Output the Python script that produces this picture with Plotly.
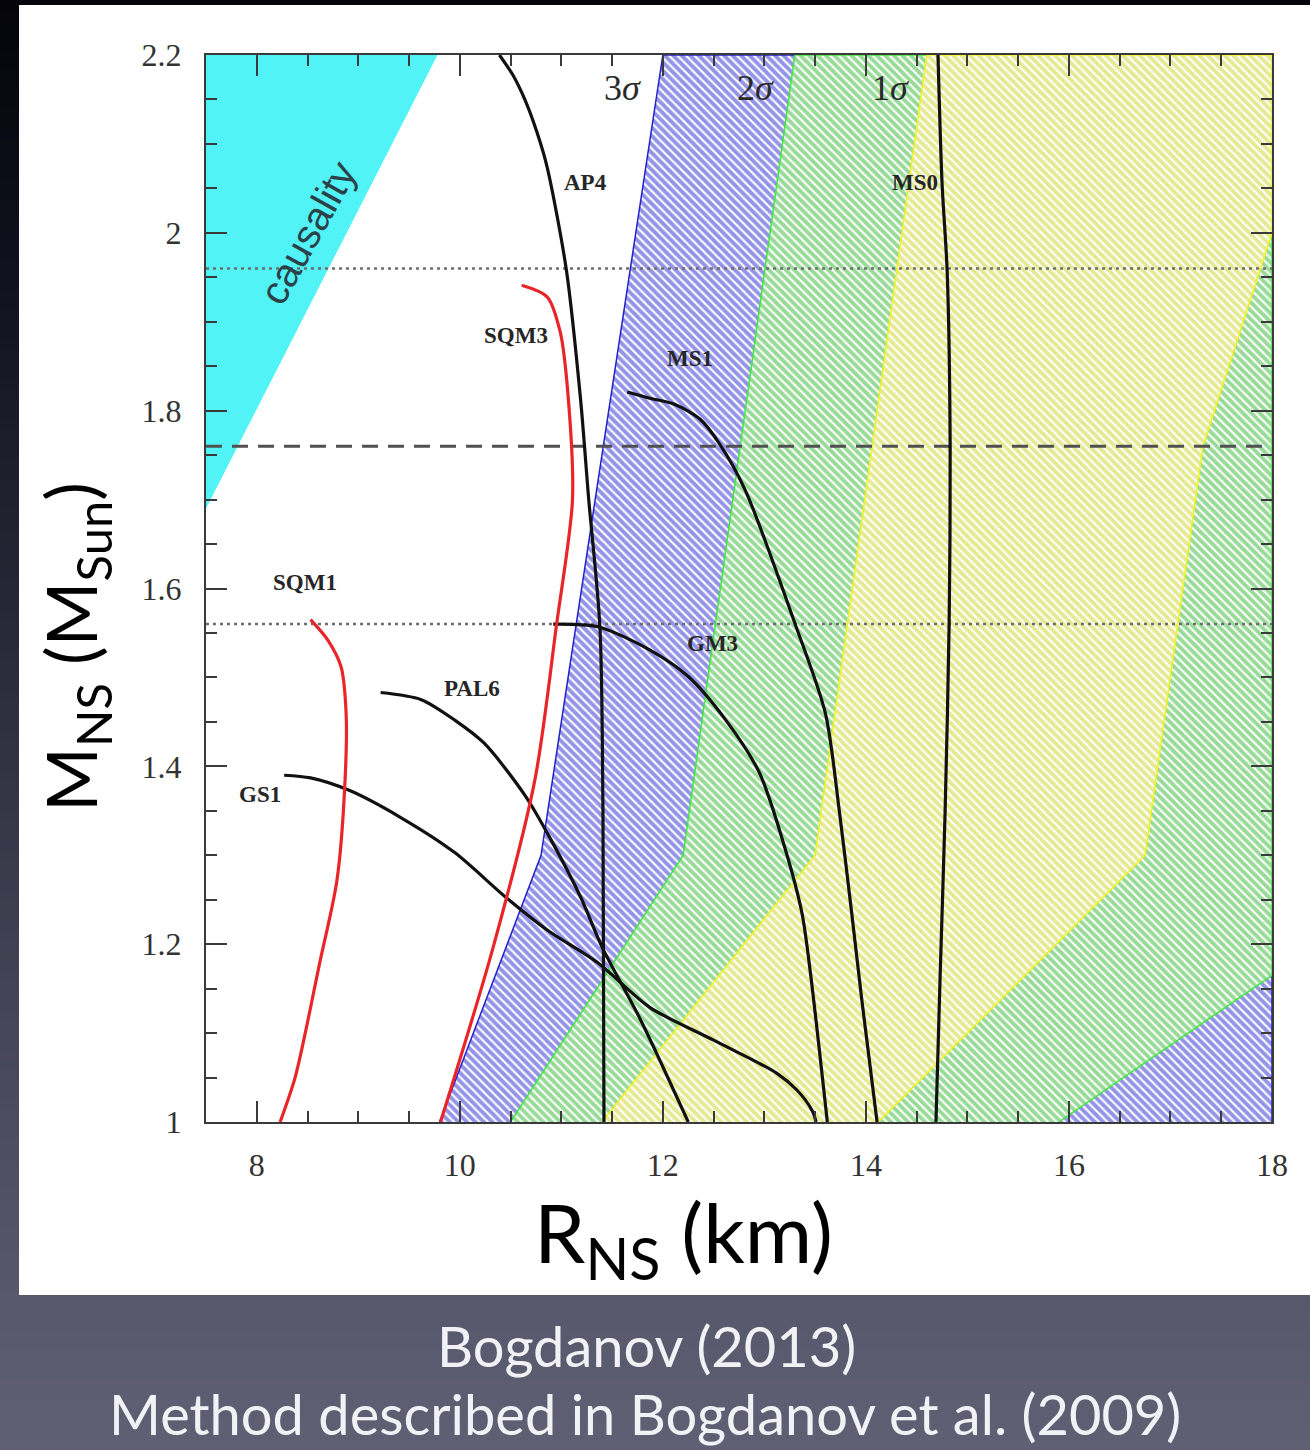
import plotly.graph_objects as go

# ---------------- data ----------------
R_RANGE = [7.5, 18.0]
M_RANGE = [1.0, 2.2]
X_TICKS = [8, 10, 12, 14, 16, 18]
X_TICK_TEXT = ["8", "10", "12", "14", "16", "18"]
Y_TICKS = [1.0, 1.2, 1.4, 1.6, 1.8, 2.0, 2.2]
Y_TICK_TEXT = ["1", "1.2", "1.4", "1.6", "1.8", "2", "2.2"]

# causality-excluded region
CAUSAL_R = [7.5, 9.78, 7.5]
CAUSAL_M = [1.69, 2.2, 2.2]

# confidence contours (3, 2, 1 sigma)
SIG3_R = [9.8, 10.8, 12.0, 18.0, 18.0]
SIG3_M = [1.0, 1.3, 2.2, 2.2, 1.0]
SIG2_R = [10.5, 12.2, 13.3, 18.0, 18.0, 15.9]
SIG2_M = [1.0, 1.3, 2.2, 2.2, 1.165, 1.0]
SIG1_R = [11.4, 13.5, 14.6, 18.0, 18.0, 17.32, 16.75, 14.12]
SIG1_M = [1.0, 1.3, 2.2, 2.2, 2.0, 1.76, 1.3, 1.0]

# reference masses
DOTTED_M = [1.56, 1.96]
DASHED_M = [1.76]

# equations of state (normal matter, black)
AP4_R = [10.39, 10.52, 10.64, 10.76, 10.86, 11.05, 11.19, 11.27, 11.38, 11.41, 11.42]
AP4_M = [2.200, 2.178, 2.150, 2.113, 2.074, 1.958, 1.812, 1.700, 1.557, 1.348, 1.0]
MS0_R = [14.71, 14.75, 14.80, 14.83, 14.82, 14.78, 14.73, 14.69]
MS0_M = [2.200, 2.056, 1.958, 1.759, 1.561, 1.348, 1.160, 1.0]
MS1_R = [11.65, 11.87, 12.12, 12.37, 12.55, 12.81, 13.30, 13.60, 13.74, 13.86, 13.96, 14.11]
MS1_M = [1.821, 1.814, 1.807, 1.790, 1.764, 1.711, 1.561, 1.460, 1.348, 1.235, 1.137, 1.0]
GM3_R = [10.92, 11.36, 11.87, 12.25, 12.62, 12.95, 13.20, 13.37, 13.45, 13.62]
GM3_M = [1.560, 1.557, 1.531, 1.501, 1.452, 1.393, 1.309, 1.235, 1.171, 1.0]
PAL6_R = [9.22, 9.62, 9.95, 10.24, 10.65, 10.90, 11.19, 11.40, 11.78, 12.25]
PAL6_M = [1.483, 1.475, 1.452, 1.426, 1.366, 1.317, 1.253, 1.197, 1.115, 1.0]
GS1_R = [8.27, 8.53, 8.91, 9.41, 9.95, 10.45, 10.86, 11.36, 11.87, 12.50, 13.12, 13.32, 13.47, 13.51]
GS1_M = [1.390, 1.387, 1.373, 1.343, 1.303, 1.253, 1.216, 1.179, 1.129, 1.092, 1.055, 1.036, 1.013, 1.0]

# strange quark matter (red)
SQM1_R = [8.53, 8.70, 8.83, 8.88, 8.87, 8.79, 8.62, 8.38, 8.23]
SQM1_M = [1.565, 1.542, 1.512, 1.460, 1.385, 1.272, 1.179, 1.051, 1.0]
SQM3_R = [10.61, 10.86, 10.99, 11.07, 11.11, 10.95, 10.74, 10.32, 9.81]
SQM3_M = [1.941, 1.928, 1.888, 1.812, 1.700, 1.557, 1.385, 1.193, 1.0]

BLACK_CURVES = [("AP4", AP4_R, AP4_M), ("MS0", MS0_R, MS0_M), ("MS1", MS1_R, MS1_M),
                ("GM3", GM3_R, GM3_M), ("PAL6", PAL6_R, PAL6_M), ("GS1", GS1_R, GS1_M)]
RED_CURVES = [("SQM1", SQM1_R, SQM1_M), ("SQM3", SQM3_R, SQM3_M)]

CURVE_LABELS = ["AP4", "SQM3", "MS1", "GM3", "MS0", "SQM1", "PAL6", "GS1"]
CURVE_LABEL_R = [11.24, 10.55, 12.27, 12.49, 14.48, 8.475, 10.12, 8.03]
CURVE_LABEL_M = [2.057, 1.885, 1.859, 1.538, 2.057, 1.607, 1.487, 1.368]

SIGMA_LABELS = ["3<i>σ</i>", "2<i>σ</i>", "1<i>σ</i>"]
SIGMA_LABEL_R = [11.6, 12.91, 14.24]
SIGMA_LABEL_M = [2.163, 2.163, 2.163]

# ---------------- geometry helpers (pixel -> paper) ----------------
W, H = 1310, 1450
PL, PR, PT, PB = 206, 1272, 55, 1122


def px(x):
    return (x - PL) / (PR - PL)


def py(y):
    return (PB - y) / (PB - PT)


fig = go.Figure()

# causality
fig.add_trace(go.Scatter(x=CAUSAL_R, y=CAUSAL_M, fill="toself", mode="lines",
                         line=dict(width=0, color="#52F3F7"), fillcolor="#52F3F7",
                         hoverinfo="skip", showlegend=False))

# contours
for rr, mm, fg, edge in [(SIG3_R, SIG3_M, "#2828d0", "#2222cc"),
                         (SIG2_R, SIG2_M, "#32b632", "#3ee83e"),
                         (SIG1_R, SIG1_M, "#cbd426", "#f2f21e")]:
    fig.add_trace(go.Scatter(x=rr, y=mm, fill="toself", mode="lines",
                             line=dict(width=1.5, color=edge),
                             fillpattern=dict(shape="\\", fgcolor=fg, bgcolor="white",
                                              size=6, solidity=0.65),
                             hoverinfo="skip", showlegend=False))

# horizontal reference masses
for m in DOTTED_M:
    fig.add_trace(go.Scatter(x=R_RANGE, y=[m, m], mode="lines",
                             line=dict(color="#6e6e6e", width=2.5, dash="3px,4px"),
                             hoverinfo="skip", showlegend=False))
for m in DASHED_M:
    fig.add_trace(go.Scatter(x=R_RANGE, y=[m, m], mode="lines",
                             line=dict(color="#505050", width=3, dash="16px,10px"),
                             hoverinfo="skip", showlegend=False))

# EOS curves
for name, rr, mm in BLACK_CURVES:
    fig.add_trace(go.Scatter(x=rr, y=mm, mode="lines", name=name,
                             line=dict(color="#111111", width=3.2, shape="spline", smoothing=0.8),
                             showlegend=False))
for name, rr, mm in RED_CURVES:
    fig.add_trace(go.Scatter(x=rr, y=mm, mode="lines", name=name,
                             line=dict(color="#e8262a", width=3.2, shape="spline", smoothing=0.8),
                             showlegend=False))

# ---------------- background shapes ----------------
shapes = []
stops = [(0, (4, 4, 10)), (250, (16, 16, 28)), (600, (38, 38, 54)),
         (1000, (68, 68, 86)), (1300, (88, 88, 108)), (1450, (96, 95, 115))]


def bgcol(y):
    for (y0, c0), (y1, c1) in zip(stops[:-1], stops[1:]):
        if y0 <= y <= y1:
            t = (y - y0) / (y1 - y0)
            return "rgb(%d,%d,%d)" % tuple(round(a + (b - a) * t) for a, b in zip(c0, c1))
    return "rgb(%d,%d,%d)" % stops[-1][1]


step = 10
for y in range(0, H, step):
    shapes.append(dict(type="rect", xref="paper", yref="paper", layer="below",
                       x0=px(0), x1=px(W), y0=py(y + step + 1), y1=py(y),
                       fillcolor=bgcol(y + step / 2), line=dict(width=0)))
shapes.append(dict(type="rect", xref="paper", yref="paper", layer="below",
                   x0=px(19), x1=px(W + 2), y0=py(1295), y1=py(5),
                   fillcolor="white", line=dict(width=0)))

# ---------------- annotations ----------------
ann = []
for t, r, m in zip(CURVE_LABELS, CURVE_LABEL_R, CURVE_LABEL_M):
    ann.append(dict(x=r, y=m, xref="x", yref="y", text=t, showarrow=False,
                    font=dict(family="Liberation Serif", size=23, color="#262626", weight="bold")))
for t, r, m in zip(SIGMA_LABELS, SIGMA_LABEL_R, SIGMA_LABEL_M):
    ann.append(dict(x=r, y=m, xref="x", yref="y", text=t, showarrow=False,
                    font=dict(family="Liberation Serif", size=36, color="#2a2a2a")))
ann.append(dict(x=8.5, y=2.0, xref="x", yref="y", text="causality", showarrow=False,
                textangle=-61,
                font=dict(family="Liberation Sans", size=40, color="#2a4248")))

ann.append(dict(x=px(683), y=py(1237), xref="paper", yref="paper",
                text="R<sub>NS</sub> (km)", showarrow=False, xanchor="center", yanchor="middle",
                font=dict(family="Lato", size=82, color="black")))
ann.append(dict(x=px(75), y=py(647), xref="paper", yref="paper",
                text="M<sub>NS</sub> (M<sub>Sun</sub>)", showarrow=False, textangle=-90,
                xanchor="center", yanchor="middle",
                font=dict(family="Lato", size=70, color="black")))
ann.append(dict(x=px(646), y=py(1345), xref="paper", yref="paper",
                text="Bogdanov (2013)", showarrow=False, xanchor="center", yanchor="middle",
                font=dict(family="Lato", size=56, color="#f2f2f6")))
ann.append(dict(x=px(645), y=py(1413), xref="paper", yref="paper",
                text="Method described in Bogdanov et al. (2009)", showarrow=False,
                xanchor="center", yanchor="middle",
                font=dict(family="Lato", size=56, color="#f2f2f6")))

axis_common = dict(showgrid=False, zeroline=False, showline=True, linecolor="#3a3a3a",
                   linewidth=2, mirror="allticks", ticks="inside", ticklen=21,
                   tickwidth=2, tickcolor="#3a3a3a",
                   tickfont=dict(family="Liberation Serif", size=32, color="#333333"))

fig.update_layout(
    width=W, height=H,
    margin=dict(l=PL, r=W - PR, t=PT, b=H - PB, pad=0),
    paper_bgcolor="rgb(20,20,30)",
    plot_bgcolor="rgba(0,0,0,0)",
    shapes=shapes,
    annotations=ann,
    showlegend=False,
    xaxis=dict(range=R_RANGE, tickmode="array", tickvals=X_TICKS, ticktext=X_TICK_TEXT,
               minor=dict(dtick=0.5, tick0=7.5, ticks="inside", ticklen=11, tickwidth=2,
                          tickcolor="#3a3a3a"),
               ticklabelstandoff=14, **axis_common),
    yaxis=dict(range=M_RANGE, tickmode="array", tickvals=Y_TICKS, ticktext=Y_TICK_TEXT,
               minor=dict(dtick=0.05, tick0=1.0, ticks="inside", ticklen=11, tickwidth=2,
                          tickcolor="#3a3a3a"),
               ticklabelstandoff=16, **axis_common),
)

fig.write_html("out.html")
